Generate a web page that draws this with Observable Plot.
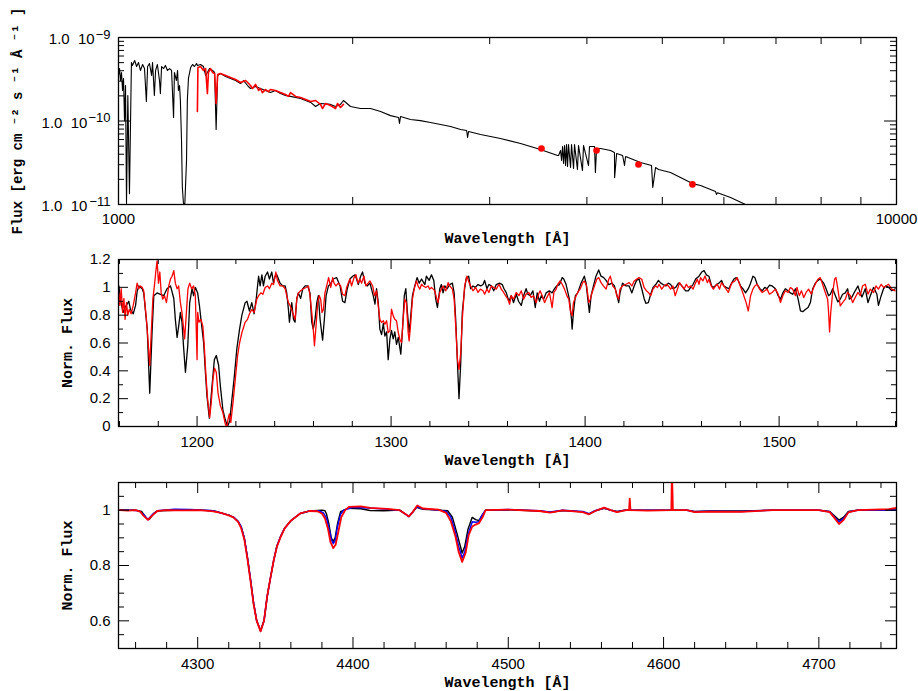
<!DOCTYPE html>
<html><head><meta charset="utf-8">
<script src="https://cdn.jsdelivr.net/npm/d3@7"></script>
<script src="https://cdn.jsdelivr.net/npm/@observablehq/plot@0.6"></script>
<style>
body{margin:0;background:#fff;}
#chart{width:918px;height:691px;}
#chart svg{display:block;}
</style></head><body><div id="chart"></div>
<script>
// ---------- Panel 1: SED (wavelength [Å], flux [erg cm^-2 s^-1 Å^-1]) ----------
const sedModel = [
[1000,3.51e-10],[1003,4.25e-10],[1006,3.05e-10],[1009,3.81e-10],[1012,2.32e-10],[1015,3.23e-10],[1018,1.01e-10],[1021,2.66e-10],[1024,1.03e-11],[1028,2.02e-10],[1033,1.35e-11],[1039,5.02e-10],[1042,4.63e-10],[1049,5.30e-10],[1055,4.49e-10],[1061,5.02e-10],[1067,4.03e-10],[1074,4.75e-10],[1080,4.25e-10],[1086,1.71e-10],[1090,4.49e-10],[1096,4.88e-10],[1103,3.51e-10],[1106,5.02e-10],[1112,2.02e-10],[1116,4.03e-10],[1122,4.75e-10],[1129,3.05e-10],[1132,2.13e-10],[1136,4.49e-10],[1143,4.25e-10],[1149,4.63e-10],[1156,4.03e-10],[1163,4.25e-10],[1170,4.03e-10],[1177,1.10e-10],[1180,3.81e-10],[1187,3.05e-10],[1191,4.03e-10],[1194,2.32e-10],[1198,2.66e-10],[1201,1.76e-10],[1205,5.83e-11],[1208,1.60e-11],[1212,1.03e-11],[1217,1.03e-11],[1223,3.37e-11],[1226,1.76e-10],[1230,3.23e-10],[1238,4.37e-10],[1245,4.75e-10],[1252,4.49e-10],[1260,4.88e-10],[1263,4.63e-10],[1275,4.75e-10],[1286,4.49e-10],[1294,3.51e-10],[1301,3.81e-10],[1309,4.25e-10],[1321,4.03e-10],[1329,3.81e-10],[1335,7.91e-11],[1341,3.51e-10],[1352,3.71e-10],[1373,3.41e-10],[1393,3.23e-10],[1414,3.05e-10],[1435,2.81e-10],[1448,3.05e-10],[1465,2.66e-10],[1478,2.45e-10],[1500,2.59e-10],[1522,2.45e-10],[1545,2.32e-10],[1568,2.19e-10],[1591,2.32e-10],[1615,2.13e-10],[1639,2.02e-10],[1664,1.97e-10],[1714,1.86e-10],[1766,1.67e-10],[1792,1.49e-10],[1818,1.62e-10],[1873,1.58e-10],[1901,1.49e-10],[1929,1.58e-10],[1946,1.76e-10],[1987,1.49e-10],[2046,1.41e-10],[2108,1.41e-10],[2172,1.30e-10],[2237,1.16e-10],[2291,1.10e-10],[2297,9.33e-11],[2304,1.13e-10],[2373,1.04e-10],[2444,1.01e-10],[2518,9.60e-11],[2594,9.08e-11],[2672,8.59e-11],[2752,7.91e-11],[2802,7.69e-11],[2810,6.34e-11],[2818,7.48e-11],[2920,6.89e-11],[3097,6.17e-11],[3287,5.38e-11],[3486,4.55e-11],[3667,3.86e-11],[3678,3.86e-11],[3700,4.43e-11],[3711,3.37e-11],[3722,4.95e-11],[3733,3.10e-11],[3744,5.09e-11],[3755,2.93e-11],[3766,5.23e-11],[3777,2.85e-11],[3788,5.23e-11],[3811,2.77e-11],[3822,5.23e-11],[3845,2.70e-11],[3856,5.23e-11],[3890,2.62e-11],[3902,5.09e-11],[3948,2.55e-11],[3960,5.09e-11],[4019,2.93e-11],[4031,4.95e-11],[4091,4.95e-11],[4102,2.42e-11],[4116,4.69e-11],[4165,4.69e-11],[4290,4.43e-11],[4340,4.20e-11],[4342,2.10e-11],[4368,4.08e-11],[4446,3.86e-11],[4471,2.93e-11],[4485,3.76e-11],[4552,3.56e-11],[4688,3.18e-11],[4843,2.93e-11],[4861,1.60e-11],[4901,2.77e-11],[4945,2.62e-11],[5123,2.42e-11],[5467,1.78e-11],[5600,1.69e-11],[5853,1.43e-11],[5870,1.32e-11],[5888,1.38e-11],[6119,1.21e-11],[6397,1.0e-11]
];
const sedObserved = [
[1263,1.30e-10],[1265,4.37e-10],[1275,4.49e-10],[1286,4.03e-10],[1294,4.25e-10],[1301,2.13e-10],[1305,3.81e-10],[1313,4.25e-10],[1321,3.81e-10],[1329,3.71e-10],[1335,1.62e-10],[1341,3.60e-10],[1352,3.71e-10],[1373,3.51e-10],[1393,3.32e-10],[1414,3.14e-10],[1435,2.89e-10],[1457,3.05e-10],[1478,2.66e-10],[1487,2.45e-10],[1500,2.74e-10],[1514,2.32e-10],[1522,2.45e-10],[1531,2.19e-10],[1545,2.38e-10],[1559,2.25e-10],[1568,2.38e-10],[1591,2.32e-10],[1615,2.19e-10],[1639,2.08e-10],[1654,1.97e-10],[1664,2.19e-10],[1689,1.97e-10],[1714,1.91e-10],[1740,1.81e-10],[1766,1.71e-10],[1792,1.76e-10],[1818,1.58e-10],[1829,1.41e-10],[1845,1.62e-10],[1873,1.53e-10],[1901,1.41e-10],[1912,1.62e-10],[1929,1.45e-10],[1946,1.58e-10]
];
const photometry = [[3497,4.69e-11],[4116,4.43e-11],[4660,3.01e-11],[5467,1.74e-11]];
const xMajor1 = [1000, 10000];
const xMinor1 = [2000,3000,4000,5000,6000,7000,8000,9000];
const yMajor1 = [1e-11, 1e-10, 1e-9];
const yMinor1 = [2e-11,3e-11,4e-11,5e-11,6e-11,7e-11,8e-11,9e-11,2e-10,3e-10,4e-10,5e-10,6e-10,7e-10,8e-10,9e-10];
const yMantissa1 = ["1.0\u00a0\u00a010", "1.0\u00a0\u00a010", "1.0\u00a0\u00a010"];
const yExponent1 = ["\u221211", "\u221210", "\u22129"];

// ---------- Panel 2: UV normalized spectrum ----------
const uvModel = [
[1159.7,1.01],[1160.5,0.91],[1161.9,0.82],[1163.1,0.86],[1164.8,0.90],[1165.7,0.84],[1167.1,0.81],[1168.3,0.87],[1169.1,0.97],[1170.0,1.01],[1171.7,0.99],[1172.5,0.96],[1174.3,0.70],[1175.6,0.24],[1176.8,0.68],[1177.7,0.94],[1179.4,0.96],[1181.1,0.95],[1182.8,0.94],[1184.5,0.99],[1186.3,1.01],[1188.0,0.92],[1188.8,0.77],[1189.7,0.64],[1190.5,0.72],[1191.4,0.82],[1192.2,0.75],[1193.1,0.56],[1194.0,0.39],[1195.2,0.58],[1196.2,0.89],[1197.4,0.99],[1198.2,0.94],[1199.1,1.00],[1200.3,0.96],[1201.2,0.87],[1202.0,0.77],[1203.4,0.60],[1204.2,0.41],[1205.1,0.22],[1206.3,0.06],[1207.7,0.29],[1208.9,0.48],[1209.9,0.51],[1211.1,0.44],[1212.0,0.29],[1213.3,0.12],[1214.5,0.05],[1215.7,0.00],[1216.8,0.04],[1218.0,0.20],[1219.2,0.36],[1220.5,0.56],[1221.9,0.70],[1223.1,0.80],[1224.8,0.89],[1225.7,0.90],[1227.0,0.83],[1228.2,0.89],[1229.4,0.81],[1230.5,0.92],[1231.7,1.08],[1232.5,1.01],[1233.4,1.09],[1234.2,1.01],[1235.1,1.08],[1236.3,1.11],[1237.3,1.06],[1238.5,1.11],[1239.4,1.03],[1240.2,1.08],[1241.1,1.09],[1242.8,1.03],[1244.2,1.01],[1245.4,1.01],[1246.2,0.96],[1247.1,0.84],[1247.6,0.75],[1248.8,0.89],[1249.7,0.77],[1250.5,0.75],[1251.4,0.92],[1252.2,0.96],[1253.4,0.92],[1254.5,0.99],[1255.7,1.01],[1257.0,1.01],[1258.2,0.96],[1259.1,0.75],[1259.9,0.70],[1260.8,0.77],[1261.7,0.89],[1262.5,0.94],[1263.4,0.77],[1264.7,0.62],[1265.6,0.77],[1266.5,0.94],[1267.7,1.01],[1268.5,1.02],[1270.2,1.06],[1271.9,1.07],[1273.7,1.01],[1275.0,0.90],[1276.2,0.89],[1277.4,0.99],[1278.8,1.06],[1280.2,1.08],[1281.4,1.09],[1282.2,1.06],[1283.1,1.02],[1284.3,1.08],[1285.3,1.11],[1286.5,1.03],[1287.7,1.01],
[1289.1,1.03],[1290.8,0.94],[1291.7,0.88],[1292.5,0.99],[1293.4,0.89],[1294.2,0.70],[1295.1,0.66],[1296.0,0.74],[1296.8,0.65],[1297.7,0.68],[1298.5,0.48],[1299.4,0.63],[1300.2,0.69],[1301.1,0.63],[1301.9,0.68],[1302.8,0.59],[1303.7,0.64],[1305.0,0.52],[1305.9,0.70],[1306.8,0.94],[1307.6,0.99],[1308.3,0.84],[1309.3,0.675],[1310.0,0.77],[1311.0,0.94],[1312.2,1.01],[1313.4,1.07],[1314.5,1.03],[1315.7,1.06],[1317.4,1.02],[1318.2,1.08],[1319.6,1.05],[1320.8,1.09],[1322.0,1.05],[1323.0,0.915],[1323.9,0.855],[1325.1,0.99],[1325.9,1.02],[1326.8,0.96],[1327.7,1.01],[1328.9,0.99],[1330.2,1.02],[1331.6,1.03],[1332.5,0.96],[1333.3,0.77],[1334.2,0.46],[1335.0,0.20],[1335.9,0.46],[1336.7,0.82],[1337.9,0.99],[1338.8,1.07],[1340.0,1.08],[1341.0,0.99],[1342.2,1.01],[1343.4,1.00],[1344.8,1.02],[1346.2,1.01],[1347.4,1.02],[1348.2,1.05],[1349.4,0.99],[1350.4,1.02],[1351.7,1.01],[1352.9,0.975],[1354.2,1.02],[1355.9,1.03],[1357.3,1.02],[1358.2,0.99],[1359.4,0.96],[1360.7,0.90],[1361.9,0.94],[1363.1,0.89],[1364.5,0.95],[1365.7,0.90],[1367.1,0.87],[1368.3,0.94],[1369.6,0.99],[1370.5,0.95],[1371.7,0.94],[1373.1,0.975],[1374.3,0.855],[1375.3,0.96],[1376.5,0.90],[1377.4,0.94],[1378.6,0.915],[1379.9,0.96],[1381.6,0.975],[1383.0,0.96],[1384.2,0.99],[1385.4,1.01],[1386.8,1.02],[1388.2,1.07],[1389.0,1.06],[1390.2,1.02],[1391.9,0.915],[1393.0,0.77],[1393.3,0.70],[1394.0,0.82],[1395.0,0.94],[1396.2,0.96],[1397.9,1.03],[1399.6,1.08],[1400.5,1.03],[1401.4,0.915],[1402.2,0.82],[1403.1,0.94],[1404.3,1.01],[1405.6,1.08],[1407.0,1.125],[1408.2,1.08],[1409.6,1.07],[1410.8,1.05],[1412.2,1.02],[1413.9,1.03],[1415.1,1.01],[1416.3,0.95],[1417.3,0.89],[1418.0,0.96],[1419.3,1.03],[1421.1,1.01],
[1422.7,1.01],[1424.1,0.96],[1425.3,1.01],[1426.5,1.05],[1427.8,1.06],[1429.2,0.99],[1430.4,0.92],[1431.3,0.885],[1432.6,0.89],[1433.8,0.95],[1435.0,1.00],[1436.4,1.02],[1437.8,1.05],[1439.0,1.03],[1440.2,1.02],[1441.6,1.01],[1442.9,1.03],[1444.1,1.02],[1445.3,0.99],[1446.7,1.00],[1448.1,1.03],[1449.3,1.02],[1450.5,1.00],[1451.8,0.975],[1453.2,0.975],[1454.4,1.00],[1455.6,1.02],[1457.0,1.06],[1458.7,1.08],[1460.1,1.11],[1461.3,1.12],[1462.5,1.09],[1463.8,1.08],[1465.2,1.01],[1466.4,1.00],[1467.6,1.02],[1469.0,1.03],[1470.3,1.05],[1471.5,1.01],[1472.7,1.00],[1474.1,0.99],[1475.5,1.03],[1476.7,1.06],[1477.9,1.07],[1478.9,1.05],[1480.1,1.01],[1481.3,0.99],[1482.7,0.96],[1484.1,0.99],[1485.3,1.03],[1486.5,1.08],[1487.5,1.07],[1488.7,1.02],[1490.1,0.99],[1491.3,0.975],[1492.6,1.00],[1493.8,0.99],[1495.0,1.015],[1496.4,1.01],[1498.1,0.99],[1499.5,0.94],[1500.7,0.915],[1501.9,0.96],[1503.2,0.99],[1504.6,0.975],[1505.8,0.96],[1507.0,0.95],[1508.4,0.99],[1509.8,0.915],[1511.0,0.83],[1512.2,0.825],[1513.5,0.84],[1514.9,0.855],[1516.1,0.89],[1517.3,0.99],[1518.7,1.03],[1520.0,1.05],[1521.2,1.06],[1523.0,1.03],[1524.2,0.99],[1525.5,0.94],[1526.4,0.95],[1527.6,0.99],[1529.0,0.94],[1530.3,0.895],[1531.5,0.915],[1532.7,0.95],[1534.1,0.96],[1535.3,0.99],[1536.2,0.915],[1537.5,0.93],[1539.2,0.975],[1540.6,1.01],[1541.8,0.96],[1542.7,0.93],[1544.4,0.99],[1545.8,0.89],[1547.0,0.94],[1548.7,1.00],[1550.4,0.95],[1551.2,0.87],[1552.6,0.94],[1553.8,0.99],[1555.0,1.01],[1556.4,1.00],[1558.1,0.975],[1559.8,0.99]
];
const uvObserved = [
[1159.7,0.96],[1160.2,0.87],[1160.9,0.99],[1161.6,0.82],[1162.3,0.92],[1162.9,0.77],[1163.6,0.89],[1164.3,0.80],[1165.0,0.84],[1166.0,0.81],[1167.1,0.87],[1168.3,0.96],[1169.1,1.03],[1170.0,0.99],[1170.8,1.01],[1171.7,1.00],[1172.5,0.975],[1173.9,0.77],[1174.8,0.60],[1175.6,0.44],[1176.3,0.65],[1177.2,0.915],[1178.0,1.01],[1178.7,1.11],[1179.4,1.19],[1180.1,1.03],[1180.8,1.11],[1181.5,0.96],[1182.3,0.915],[1183.2,0.94],[1184.2,0.89],[1185.4,1.01],[1186.3,1.06],[1187.1,1.08],[1188.0,1.12],[1188.8,1.03],[1189.7,0.99],[1190.5,1.01],[1191.4,0.89],[1192.2,0.82],[1193.1,0.70],[1193.6,0.63],[1194.5,0.82],[1195.3,0.99],[1196.2,1.03],[1197.2,0.99],[1198.2,1.01],[1199.1,0.94],[1200.0,0.48],[1200.3,0.82],[1201.0,0.75],[1202.0,0.77],[1203.0,0.72],[1203.7,0.58],[1204.6,0.36],[1205.4,0.20],[1206.5,0.065],[1207.3,0.17],[1208.2,0.34],[1209.0,0.42],[1209.9,0.39],[1210.8,0.24],[1212.0,0.15],[1213.3,0.10],[1214.5,0.02],[1215.4,-0.01],[1215.9,0.05],[1216.6,0.09],[1217.4,0.03],[1218.5,0.17],[1219.7,0.34],[1220.9,0.51],[1221.9,0.60],[1223.1,0.675],[1223.9,0.71],[1224.8,0.75],[1226.0,0.77],[1227.0,0.81],[1228.2,0.84],[1229.4,0.82],[1230.8,0.915],[1231.7,0.94],[1232.9,0.96],[1233.9,0.95],[1235.1,0.999],[1236.3,1.01],[1237.3,0.99],[1238.5,1.03],[1239.4,1.02],[1240.6,1.11],[1241.4,1.05],[1242.8,1.01],[1244.2,1.01],[1245.4,0.99],[1246.2,0.94],[1247.1,0.89],[1247.9,0.87],[1248.8,0.84],[1249.7,0.80],[1250.5,0.77],[1251.4,0.915],[1252.2,0.96],[1253.4,0.975],[1254.8,0.99],[1256.2,0.999],[1257.4,1.01],[1258.2,0.94],[1259.1,0.82],[1259.9,0.70],[1260.5,0.58],[1261.3,0.72],[1262.2,0.89],[1263.0,0.94],[1263.7,0.915],[1264.4,0.82],[1265.1,0.84],[1265.9,0.96],[1266.8,1.01],[1267.8,1.07],[1268.9,0.999],[1269.9,1.07],[1270.6,1.03],[1271.6,1.01],[1272.8,1.03],[1274.0,1.01],[1275.0,0.95],[1276.2,0.94],[1277.1,0.999],[1277.9,1.03],[1278.8,1.06],[1279.6,1.01],[1280.9,1.07],[1281.9,1.09],[1282.9,1.03],[1283.9,1.06],[1284.8,1.03],[1286.0,1.08],[1287.0,1.01],[1288.2,1.03],
[1289.1,1.046],[1290.5,1.01],[1291.5,0.94],[1292.5,0.975],[1293.4,0.867],[1294.2,0.77],[1295.1,0.747],[1296.0,0.76],[1296.8,0.735],[1297.7,0.76],[1298.5,0.675],[1299.4,0.687],[1300.2,0.843],[1301.1,0.795],[1301.9,0.77],[1302.8,0.76],[1303.7,0.675],[1304.5,0.627],[1305.4,0.603],[1306.2,0.77],[1307.1,0.915],[1307.9,0.89],[1308.8,0.675],[1309.3,0.615],[1310.0,0.723],[1311.0,0.915],[1311.9,0.987],[1313.1,1.046],[1313.9,1.01],[1314.8,0.987],[1315.7,1.022],[1316.5,1.01],[1317.9,0.999],[1319.1,1.01],[1319.9,0.987],[1320.8,0.999],[1321.7,0.987],[1322.5,0.975],[1323.4,0.927],[1324.2,0.89],[1325.1,0.963],[1325.9,0.987],[1326.8,1.01],[1328.2,0.975],[1329.4,1.034],[1330.2,1.01],[1331.6,0.987],[1332.5,0.915],[1333.3,0.723],[1334.2,0.484],[1335.0,0.41],[1335.9,0.53],[1336.7,0.77],[1337.9,1.01],[1339.1,1.08],[1340.2,1.034],[1341.0,1.01],[1342.2,0.975],[1343.6,0.999],[1344.8,0.963],[1346.0,0.987],[1347.4,0.975],[1348.2,0.951],[1349.4,0.987],[1350.4,0.963],[1351.7,1.01],[1352.9,0.999],[1354.2,0.987],[1355.6,1.022],[1356.8,0.987],[1358.0,0.963],[1359.0,0.94],[1360.2,0.915],[1361.1,0.879],[1361.9,0.94],[1363.1,0.915],[1364.5,0.963],[1365.9,0.94],[1367.1,0.975],[1368.3,0.915],[1369.6,0.951],[1371.0,0.963],[1372.2,0.927],[1373.4,0.94],[1374.8,0.89],[1376.0,0.951],[1376.8,0.975],[1377.9,0.94],[1379.1,0.89],[1379.9,0.915],[1381.6,0.963],[1383.0,0.855],[1383.9,0.963],[1385.1,0.987],[1385.9,1.022],[1387.1,1.046],[1388.2,1.022],[1389.4,0.987],[1390.6,0.94],[1391.6,0.915],[1392.4,0.83],[1393.3,0.795],[1394.0,0.89],[1395.0,0.927],[1396.2,0.963],[1397.4,0.987],[1398.8,1.034],[1399.6,1.046],[1400.8,1.01],[1401.9,0.89],[1402.7,0.915],[1403.6,0.963],[1404.8,1.01],[1406.0,1.058],[1407.0,1.07],[1408.2,1.034],[1409.4,1.01],[1410.8,0.987],[1412.2,1.058],[1413.0,1.08],[1414.2,1.01],[1415.6,0.987],[1416.3,0.94],[1417.3,0.915],[1418.0,0.987],[1419.3,1.01],[1421.1,1.022],
[1422.7,1.034],[1424.1,1.01],[1425.3,1.046],[1426.5,1.058],[1427.8,1.07],[1429.2,1.058],[1430.4,0.999],[1431.6,0.975],[1432.6,0.963],[1433.8,0.94],[1435.0,0.987],[1436.4,1.01],[1437.3,0.999],[1438.1,1.022],[1439.5,0.987],[1440.7,1.01],[1441.9,1.022],[1442.9,1.01],[1444.1,0.987],[1445.3,1.01],[1446.4,0.94],[1447.6,0.987],[1448.7,1.034],[1449.8,1.01],[1451.0,0.987],[1452.2,1.022],[1453.2,0.999],[1454.4,1.01],[1455.6,0.987],[1457.0,1.034],[1457.8,1.058],[1458.7,1.022],[1459.5,1.07],[1460.7,1.046],[1461.8,1.082],[1463.0,1.034],[1463.8,1.058],[1465.0,1.01],[1466.1,0.987],[1467.3,1.01],[1468.1,1.022],[1469.3,0.987],[1470.3,1.034],[1471.5,1.01],[1472.7,0.987],[1473.8,0.963],[1475.0,1.01],[1475.8,1.034],[1477.2,1.046],[1478.4,1.07],[1479.3,1.034],[1480.6,0.987],[1481.8,0.94],[1483.0,0.89],[1484.1,0.83],[1485.3,0.94],[1486.5,0.987],[1487.5,1.01],[1488.7,1.022],[1489.9,0.987],[1491.3,0.963],[1492.6,0.975],[1493.8,0.987],[1495.0,0.951],[1496.4,0.963],[1498.1,0.987],[1499.5,0.951],[1500.7,0.89],[1501.9,0.94],[1503.2,0.975],[1504.6,0.963],[1505.8,0.999],[1507.0,0.987],[1508.4,0.94],[1509.2,0.999],[1510.4,0.94],[1511.5,0.975],[1512.7,0.927],[1513.9,0.963],[1515.2,0.987],[1516.6,0.951],[1517.8,0.999],[1519.0,1.034],[1520.0,1.058],[1521.2,1.07],[1522.4,1.022],[1523.8,0.963],[1525.0,0.915],[1525.5,0.82],[1526.0,0.68],[1526.6,0.82],[1527.6,0.963],[1528.6,1.058],[1529.3,1.07],[1530.3,0.987],[1531.5,0.867],[1532.7,0.89],[1534.1,0.915],[1535.3,0.963],[1536.7,0.94],[1537.9,0.89],[1539.2,0.927],[1540.6,0.963],[1541.8,0.94],[1543.0,1.01],[1544.4,1.022],[1545.8,0.951],[1547.0,0.987],[1548.7,0.963],[1549.9,1.01],[1551.2,0.987],[1552.6,1.022],[1553.8,0.999],[1555.0,1.01],[1556.4,1.022],[1558.1,0.987],[1559.8,0.975]
];
const xMajor2 = [1200,1300,1400,1500];
const xMinor2 = [1160,1180,1220,1240,1260,1280,1320,1340,1360,1380,1420,1440,1460,1480,1520,1540,1560];
const yMajor2 = [0,0.2,0.4,0.6,0.8,1,1.2];
const yMinor2 = [0.1,0.3,0.5,0.7,0.9,1.1];

// ---------- Panel 3: optical normalized spectrum ----------
const optModelA = [
[4250,1.0],[4260,1.0],[4264,0.995],[4267,0.97],[4269,0.968],[4272,0.99],[4275,0.998],[4290,1.0],[4300,1.0],[4310,0.998],[4315,0.99],[4320,0.982],[4323,0.975],[4326,0.96],[4328,0.94],[4330,0.90],[4332,0.83],[4334,0.75],[4336,0.664],[4338,0.60],[4340.5,0.565],[4342.7,0.60],[4344.8,0.69],[4347,0.76],[4349,0.82],[4351,0.87],[4353.4,0.905],[4356,0.935],[4360,0.962],[4366,0.988],[4372,0.997],[4380,1.0],[4382,0.998],[4383,0.985],[4384.5,0.95],[4386,0.90],[4387.3,0.887],[4388.5,0.90],[4390,0.95],[4392,0.995],[4397,1.007],[4405,1.005],[4411,0.999],[4420,0.998],[4430,1.0],[4434,0.985],[4436,0.977],[4438,0.99],[4441,1.01],[4445,1.003],[4455,1.0],[4461,0.998],[4464,0.975],[4467,0.915],[4470.3,0.845],[4472,0.87],[4474,0.93],[4476.8,0.974],[4479,0.966],[4481.1,0.962],[4483,0.98],[4485.4,1.0],[4500,1.001],[4520,0.997],[4527,0.992],[4535,0.999],[4548,0.994],[4552,0.986],[4556,0.998],[4561.7,1.007],[4566,1.0],[4570,0.995],[4575,1.0],[4600,1.0],[4615,1.0],[4620,0.995],[4630,0.997],[4650,0.997],[4670,1.0],[4700,1.0],[4707,0.995],[4710,0.98],[4713,0.964],[4716,0.975],[4719,0.995],[4725,1.0],[4750,1.0]
];
const optModelB = [
[4250,1.001],[4258,1.0],[4262,0.998],[4265,0.985],[4268,0.966],[4271,0.985],[4274,0.998],[4285,1.003],[4295,1.002],[4305,1.0],[4310,0.998],[4315,0.99],[4320,0.982],[4323,0.975],[4326,0.96],[4328,0.94],[4330,0.90],[4332,0.83],[4334,0.75],[4336,0.664],[4338,0.60],[4340.5,0.563],[4342.7,0.60],[4344.8,0.69],[4347,0.76],[4349,0.82],[4351,0.87],[4353.4,0.905],[4356,0.935],[4360,0.962],[4366,0.988],[4372,0.997],[4378,0.998],[4381,0.99],[4383,0.97],[4384.5,0.935],[4386,0.895],[4387.3,0.879],[4388.5,0.89],[4390,0.94],[4392,0.985],[4394,1.0],[4400,1.01],[4410,1.008],[4420,1.004],[4430,1.0],[4434,0.985],[4436,0.977],[4438,0.99],[4441,1.012],[4445,1.005],[4455,1.001],[4460,0.995],[4463,0.975],[4466,0.92],[4468,0.87],[4470.3,0.827],[4472,0.85],[4474,0.91],[4476.8,0.958],[4479,0.956],[4481.1,0.958],[4483,0.98],[4485.4,1.0],[4500,1.002],[4520,0.998],[4527,0.993],[4535,1.0],[4548,0.995],[4552,0.987],[4556,0.998],[4561.7,1.008],[4566,1.0],[4570,0.994],[4575,1.0],[4600,1.0],[4615,1.0],[4620,0.994],[4630,0.996],[4650,0.995],[4670,1.0],[4700,1.0],[4707,0.994],[4710,0.975],[4713,0.958],[4716,0.97],[4719,0.993],[4725,1.0],[4750,1.001]
];
const optObserved = [
[4250,1.0],[4255,0.998],[4260,1.0],[4263,0.995],[4265,0.98],[4268,0.965],[4271,0.982],[4274,0.997],[4280,1.0],[4290,0.999],[4300,1.0],[4305,0.998],[4310,0.996],[4315,0.99],[4320,0.981],[4323,0.974],[4326,0.958],[4328,0.935],[4330,0.895],[4332,0.825],[4334,0.745],[4336,0.66],[4338,0.60],[4340.5,0.562],[4342.7,0.60],[4344.8,0.69],[4347,0.76],[4349,0.82],[4351,0.868],[4353.4,0.903],[4356,0.934],[4360,0.962],[4366,0.988],[4372,0.997],[4377,0.996],[4380,0.988],[4382,0.97],[4384,0.93],[4385.5,0.885],[4387.3,0.863],[4388.8,0.875],[4390.5,0.92],[4392.5,0.975],[4395,1.0],[4397.4,1.012],[4405,1.014],[4411,1.008],[4422,1.005],[4430,1.0],[4434,0.985],[4436,0.977],[4438,0.99],[4441.4,1.017],[4445,1.006],[4455,1.002],[4460,0.99],[4463,0.96],[4466,0.905],[4468,0.85],[4470.3,0.813],[4472.5,0.845],[4474.5,0.91],[4476.8,0.941],[4479,0.948],[4481.1,0.953],[4483.5,0.975],[4485.4,1.0],[4500,1.002],[4520,0.997],[4527,0.991],[4535,0.999],[4548,0.993],[4552,0.985],[4556,0.997],[4561.7,1.009],[4566,1.0],[4570,0.993],[4576,1.0],[4577.8,1.0],[4578.2,1.042],[4578.7,1.0],[4590,0.998],[4605,1.0],[4605.4,1.15],[4606,1.0],[4615,1.0],[4620,0.993],[4630,0.995],[4650,0.994],[4670,1.0],[4700,1.0],[4707,0.993],[4710,0.972],[4713,0.95],[4716,0.965],[4719,0.992],[4725,1.0],[4745,1.004],[4750,1.008]
];
const xMajor3 = [4300,4400,4500,4600,4700];
const xMinor3 = [4260,4280,4320,4340,4360,4380,4420,4440,4460,4480,4520,4540,4560,4580,4620,4640,4660,4680,4720,4740];
const yMajor3 = [0.6,0.8,1];
const yMinor3 = [0.55,0.65,0.7,0.75,0.85,0.9,0.95,1.05];

const wavelengthLabel = "Wavelength [Å]";
const fluxLabel = "Flux [erg cm \u207b\u00b2 s \u207b\u00b9 Å \u207b\u00b9 ]";
const normLabel = "Norm. Flux";

// ---------- layout helpers ----------
const W = 918, ML = 118, MR = 22, FW = W - ML - MR;
const titleFont = {fontFamily: "Liberation Mono, DejaVu Sans Mono, monospace", fontWeight: "bold", fill: "black"};
const tickFont = "Liberation Sans, Arial, sans-serif";

function frameTicks(fh, xs, ys) {
  const m = [];
  for (const [vals, len] of xs) {
    m.push(Plot.tickX(vals, {x: d => d, insetTop: fh - len, stroke: "black", strokeWidth: 1}));
    m.push(Plot.tickX(vals, {x: d => d, insetBottom: fh - len, stroke: "black", strokeWidth: 1}));
  }
  for (const [vals, len] of ys) {
    m.push(Plot.tickY(vals, {y: d => d, insetRight: FW - len, stroke: "black", strokeWidth: 1}));
    m.push(Plot.tickY(vals, {y: d => d, insetLeft: FW - len, stroke: "black", strokeWidth: 1}));
  }
  return m;
}

function panel({height, mt, mb, x, y, marks}) {
  return Plot.plot({
    width: W, height, marginLeft: ML, marginRight: MR, marginTop: mt, marginBottom: mb,
    x, y,
    style: {background: "white", fontFamily: tickFont, fontSize: "15px", color: "black", overflow: "visible"},
    marks
  });
}

const chart = document.getElementById("chart");

// Panel 1 y tick labels: mantissa + raised exponent
const EXP_SIZE = 13;
function logTickLabels() {
  const m = [];
  yMajor1.forEach((v, i) => {
    const e = yExponent1[i];
    const w = EXP_SIZE * (0.584 + 0.556 * (e.length - 1));
    m.push(Plot.text([v], {y: d => d, text: () => e, frameAnchor: "left", dx: -8, dy: -3, textAnchor: "end", lineAnchor: "middle", fontSize: EXP_SIZE, fontFamily: tickFont, fill: "black"}));
    m.push(Plot.text([v], {y: d => d, text: () => yMantissa1[i], frameAnchor: "left", dx: -9 - w, dy: 2, textAnchor: "end", lineAnchor: "middle", fontSize: 15, fontFamily: tickFont, fill: "black"}));
  });
  return m;
}

// Panel 1
{
  const fh = 248 - 37 - 44;
  chart.append(panel({
    height: 248, mt: 37, mb: 44,
    x: {type: "log", domain: [1000, 10000]},
    y: {type: "log", domain: [1e-11, 1e-9], axis: null},
    marks: [
      Plot.line(sedModel, {x: d => d[0], y: d => d[1], stroke: "black", strokeWidth: 1.1, clip: true}),
      Plot.line(sedObserved, {x: d => d[0], y: d => d[1], stroke: "#ff0000", strokeWidth: 1.6, clip: true}),
      Plot.dot(photometry, {x: d => d[0], y: d => d[1], r: 3.3, fill: "#ff0000", stroke: null}),
      ...frameTicks(fh, [[xMinor1, 7], [xMajor1, 12]], [[yMinor1, 6], [yMajor1, 12]]),
      Plot.frame({stroke: "black", strokeWidth: 1.3}),
      Plot.axisX({ticks: xMajor1, tickSize: 0, tickPadding: 9, tickFormat: d => String(d), label: null}),
      ...logTickLabels(),
      Plot.text([wavelengthLabel], {text: d => d, frameAnchor: "bottom", dy: 34, textAnchor: "middle", lineAnchor: "middle", fontSize: 15, ...titleFont}),
      Plot.text([fluxLabel], {text: d => d, frameAnchor: "left", dx: -101, rotate: -90, textAnchor: "middle", lineAnchor: "middle", fontSize: 14, ...titleFont})
    ]
  }));
}

// Panel 2
{
  const fh = 222 - 11 - 44;
  chart.append(panel({
    height: 222, mt: 11, mb: 44,
    x: {domain: [1159.5, 1560.5]},
    y: {domain: [0, 1.2]},
    marks: [
      Plot.line(uvModel, {x: d => d[0], y: d => d[1], stroke: "black", strokeWidth: 1.3, clip: true}),
      Plot.line(uvObserved, {x: d => d[0], y: d => d[1], stroke: "#ff0000", strokeWidth: 1.3, clip: true}),
      ...frameTicks(fh, [[xMinor2, 5], [xMajor2, 10]], [[yMinor2, 5], [yMajor2, 10]]),
      Plot.frame({stroke: "black", strokeWidth: 1.3}),
      Plot.axisX({ticks: xMajor2, tickSize: 0, tickPadding: 10, tickFormat: d => String(d), label: null}),
      Plot.axisY({ticks: yMajor2, tickSize: 0, tickPadding: 8, tickFormat: d => String(d), label: null}),
      Plot.text([wavelengthLabel], {text: d => d, frameAnchor: "bottom", dy: 34, textAnchor: "middle", lineAnchor: "middle", fontSize: 15, ...titleFont}),
      Plot.text([normLabel], {text: d => d, frameAnchor: "left", dx: -51, rotate: -90, textAnchor: "middle", lineAnchor: "middle", fontSize: 15, ...titleFont})
    ]
  }));
}

// Panel 3
{
  const fh = 221 - 12 - 43;
  chart.append(panel({
    height: 221, mt: 12, mb: 43,
    x: {domain: [4249, 4750]},
    y: {domain: [0.5, 1.1]},
    marks: [
      Plot.line(optModelA, {x: d => d[0], y: d => d[1], stroke: "black", strokeWidth: 1.4, clip: true}),
      Plot.line(optModelB, {x: d => d[0], y: d => d[1], stroke: "#0000ff", strokeWidth: 1.5, clip: true}),
      Plot.line(optObserved, {x: d => d[0], y: d => d[1], stroke: "#ff0000", strokeWidth: 1.8, clip: true}),
      ...frameTicks(fh, [[xMinor3, 6], [xMajor3, 11]], [[yMinor3, 6], [yMajor3, 11]]),
      Plot.frame({stroke: "black", strokeWidth: 1.3}),
      Plot.axisX({ticks: xMajor3, tickSize: 0, tickPadding: 10, tickFormat: d => String(d), label: null}),
      Plot.axisY({ticks: yMajor3, tickSize: 0, tickPadding: 8, tickFormat: d => String(d), label: null}),
      Plot.text([wavelengthLabel], {text: d => d, frameAnchor: "bottom", dy: 34, textAnchor: "middle", lineAnchor: "middle", fontSize: 15, ...titleFont}),
      Plot.text([normLabel], {text: d => d, frameAnchor: "left", dx: -51, rotate: -90, textAnchor: "middle", lineAnchor: "middle", fontSize: 15, ...titleFont})
    ]
  }));
}
</script></body></html>
